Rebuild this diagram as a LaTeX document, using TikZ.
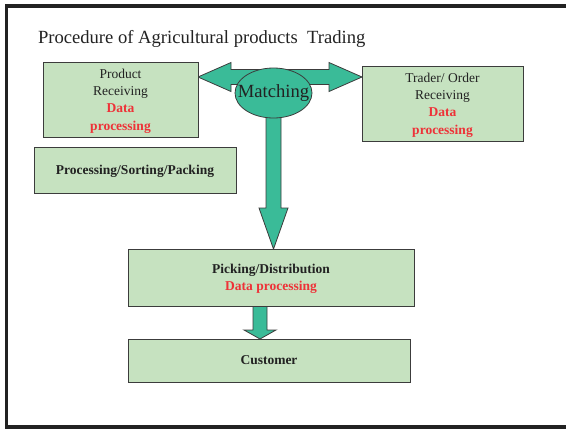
\documentclass[tikz,border=0pt]{standalone}
\usepackage{fontspec}
\setmainfont{Liberation Serif}
\usetikzlibrary{calc,backgrounds,shapes.geometric}
\definecolor{boxfill}{RGB}{198,226,192}
\definecolor{arrowfill}{RGB}{58,187,152}
\definecolor{datared}{RGB}{238,50,56}
\definecolor{linegray}{RGB}{60,60,60}
\definecolor{textgray}{RGB}{34,34,34}
\begin{document}
\begin{tikzpicture}[x=1pt,y=-1pt,inner sep=0pt,outer sep=0pt,
box/.style={draw=linegray,fill=boxfill,rectangle,line width=0.9pt,align=center,text=textgray,text depth=0pt,font=\fontsize{13.5}{17.3}\selectfont},
blockarrow/.style={draw=linegray,fill=arrowfill,line width=0.8pt,line join=miter}]
\useasboundingbox (0,0) rectangle (566,429);
\draw[line width=3.5pt,textgray] (566,6) -- (6.5,6) -- (6.5,427) -- (566,427);
\draw (38,43) node[anchor=base west,text=textgray,font=\fontsize{18.6}{22}\selectfont] (title) {Procedure of Agricultural products\ \ Trading};
\draw (120.5,99.5) node[box,minimum width=155pt,minimum height=75pt] (prod) {Product\\Receiving\\\textcolor{datared}{\textbf{Data}}\\\textcolor{datared}{\textbf{processing}}};
\draw (442.5,103.5) node[box,minimum width=161pt,minimum height=75pt] (trader) {Trader/ Order\\Receiving\\\textcolor{datared}{\textbf{Data}}\\\textcolor{datared}{\textbf{processing}}};
\draw (135,170) node[box,minimum width=202pt,minimum height=46pt] (sort) {\textbf{Processing/Sorting/Packing}};
\draw (271,277.5) node[box,minimum width=286pt,minimum height=57pt] (pick) {\textbf{Picking/Distribution}\\\textcolor{datared}{\textbf{Data processing}}};
\draw (269,360.5) node[box,minimum width=282pt,minimum height=43pt] (cust) {\textbf{Customer}};
\draw (273.5,93) node[draw=linegray,fill=arrowfill,ellipse,line width=0.8pt,minimum width=77pt,minimum height=50pt] (match) {};
\draw (match.center) node[text=textgray,font=\fontsize{18.6}{22}\selectfont] (matchtext) {Matching};
\coordinate (hy) at (0,77);
\coordinate (ltip) at (prod.east |- hy);
\coordinate (rtip) at (trader.west |- hy);
\coordinate (vtip) at (match.center |- pick.north);
\coordinate (dtop) at ($(pick.south)+(-11,0)$);
\coordinate (dtip) at (dtop |- cust.north);
\begin{scope}[on background layer]
\draw[blockarrow] (ltip) -- ++(33,-14.5) -- ++(0,7) -- ($(rtip)+(-33,-7.5)$) -- ++(0,-7) -- (rtip) -- ++(-33,14.5) -- ++(0,-7) -- ($(ltip)+(33,7.5)$) -- ++(0,7) -- cycle;
\draw[blockarrow] ($(match.center)+(-7.5,0)$) -- ($(vtip)+(-7.5,-41)$) -- ++(-7,0) -- (vtip) -- ++(14.5,-41) -- ++(-7,0) -- ($(match.center)+(7.5,0)$) -- cycle;
\draw[blockarrow] ($(dtop)+(-7,0)$) -- ($(dtip)+(-7,-9)$) -- ++(-9,0) -- (dtip) -- ++(16,-9) -- ++(-9,0) -- ($(dtop)+(7,0)$) -- cycle;
\end{scope}
\end{tikzpicture}
\end{document}
